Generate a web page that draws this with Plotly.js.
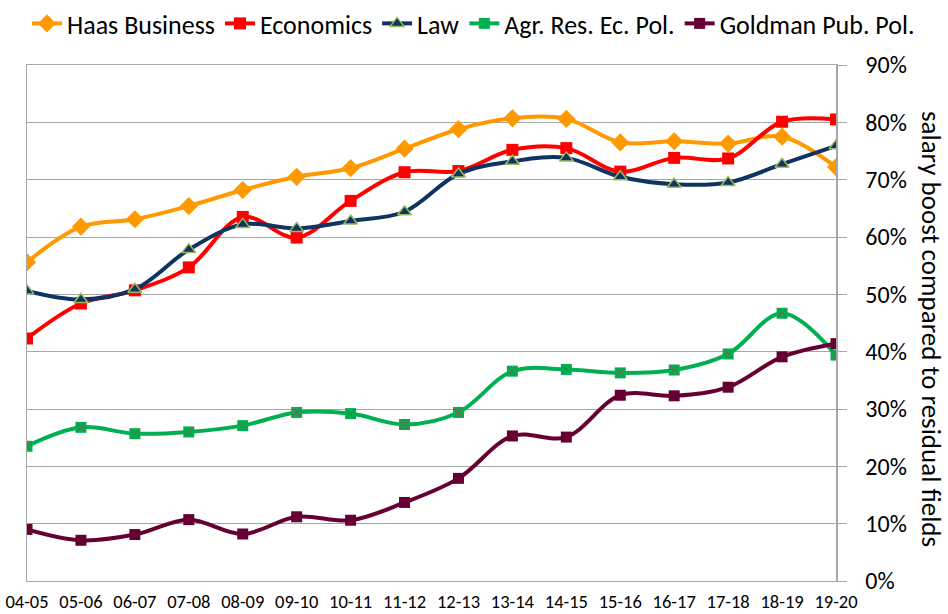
<!DOCTYPE html>
<html>
<head>
<meta charset="utf-8">
<script src="https://cdn.plot.ly/plotly-3.0.1.min.js"></script>
<style>html,body{margin:0;padding:0;background:#fff;}#chart{width:948px;height:614px;}</style>
</head>
<body>
<div id="chart"></div>
<script>
var years = ["04-05","05-06","06-07","07-08","08-09","09-10","10-11","11-12","12-13","13-14","14-15","15-16","16-17","17-18","18-19","19-20"];
var haas = [0.556,0.618,0.631,0.654,0.682,0.705,0.720,0.754,0.788,0.807,0.806,0.765,0.767,0.763,0.775,0.722];
var economics = [0.423,0.484,0.507,0.547,0.635,0.599,0.663,0.713,0.715,0.752,0.755,0.714,0.738,0.737,0.801,0.805];
var law = [0.506,0.491,0.509,0.578,0.622,0.615,0.628,0.644,0.710,0.732,0.738,0.705,0.692,0.695,0.727,0.759];
var agr = [0.235,0.268,0.257,0.260,0.271,0.294,0.292,0.273,0.294,0.366,0.369,0.363,0.368,0.396,0.467,0.394];
var goldman = [0.090,0.071,0.081,0.107,0.082,0.112,0.106,0.137,0.179,0.253,0.251,0.324,0.323,0.338,0.391,0.414];
var names = ["Haas Business","Economics","Law","Agr. Res. Ec. Pol.","Goldman Pub. Pol."];

var FONT = "Calibri, Carlito, Lato, 'Liberation Sans', sans-serif";
var idx = years.map(function(_, i){ return i; });

function tr(name, y, color, marker){
  return {x: idx, y: y, name: name, type: 'scatter', mode: 'lines+markers',
    line: {color: color, width: 4, shape: 'spline', smoothing: 1},
    marker: marker, hovertemplate: '%{y:.1%}<extra>' + name + '</extra>'};
}
var data = [
  tr(names[0], haas, '#FF9900', {symbol: 'diamond', size: 14, color: '#FF9900'}),
  tr(names[1], economics, '#FF0000', {symbol: 'square', size: 12, color: '#FF0000'}),
  tr(names[2], law, '#0F3461', {symbol: 'triangle-up', size: 12, color: '#0F3461', line: {color: '#9BBB59', width: 1.5}}),
  tr(names[3], agr, '#00B050', {symbol: 'square', size: 11, color: '#00B050'}),
  tr(names[4], goldman, '#660033', {symbol: 'square', size: 11, color: '#660033'}),
  {x: idx, y: agr, type: 'scatter', mode: 'markers', showlegend: false, hoverinfo: 'skip',
   marker: {symbol: 'x-thin-open', size: 8, line: {color: '#8064A2', width: 1}}}
];

var layout = {
  width: 948, height: 614,
  margin: {l: 27, r: 112, t: 65, b: 33, autoexpand: false},
  paper_bgcolor: '#fff', plot_bgcolor: '#fff',
  font: {family: FONT, color: '#000'},
  showlegend: true,
  legend: {orientation: 'h', x: 1.1038, xanchor: 'right', y: 1.126, yanchor: 'top',
    font: {family: FONT, size: 26, color: '#000'}, bgcolor: 'rgba(0,0,0,0)', itemwidth: 30, tracegroupgap: 0},
  xaxis: {
    range: [0, 15], tickmode: 'array', tickvals: idx, ticktext: years, automargin: false,
    showgrid: false, zeroline: false, showline: true, mirror: true, linecolor: '#A6A6A6', linewidth: 1,
    ticks: '', tickfont: {family: FONT, size: 18.5, color: '#000'}, ticklabelstandoff: 4, fixedrange: true
  },
  yaxis: {
    side: 'right', range: [0, 0.9], dtick: 0.1, tickformat: '.0%', automargin: false,
    showgrid: true, gridcolor: '#A6A6A6', gridwidth: 1, zeroline: false,
    showline: true, mirror: true, linecolor: '#A6A6A6', linewidth: 1.5,
    ticks: 'outside', ticklen: 9, tickcolor: '#A6A6A6', tickwidth: 1,
    tickfont: {family: FONT, size: 24, color: '#000'}, ticklabelstandoff: 14, fixedrange: true
  },
  annotations: [{
    text: 'salary boost compared to residual fields', textangle: 90,
    xref: 'paper', yref: 'paper', x: 1, xshift: 96, y: 0.5, yshift: -6,
    xanchor: 'center', yanchor: 'middle', showarrow: false,
    font: {family: FONT, size: 27, color: '#000'}
  }]
};
Plotly.newPlot('chart', data, layout, {displayModeBar: false, staticPlot: true});
</script>
</body>
</html>
